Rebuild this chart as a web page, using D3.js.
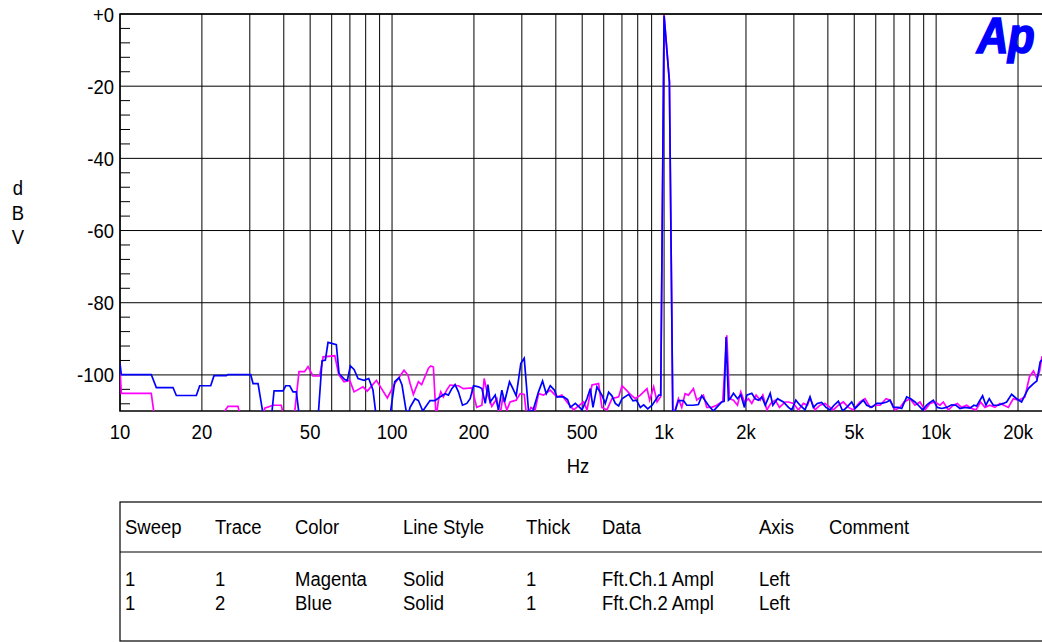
<!DOCTYPE html>
<html>
<head>
<meta charset="utf-8">
<script src="https://cdn.jsdelivr.net/npm/d3@7"></script>
<style>
body { margin: 0; background: #fff; }
text { font-family: "Liberation Sans", Arial, sans-serif; font-size: 21px; fill: #000; }
</style>
</head>
<body>
<svg id="chart" width="1042" height="642"></svg>
<script>
// tick labels
var xTicks = [10, 20, 50, 100, 200, 500, 1000, 2000, 5000, 10000, 20000];
var xTickLabels = ["10", "20", "50", "100", "200", "500", "1k", "2k", "5k", "10k", "20k"];
var yTicks = [0, -20, -40, -60, -80, -100];
var yTickLabels = ["+0", "-20", "-40", "-60", "-80", "-100"];

// trace 1 (magenta), Hz / dBV
var magFreq = [10, 10.11, 13.03, 13.41, 21.98, 24.26, 24.95, 27.15, 27.77, 33.56, 34.03, 36.51, 39.17, 40.07, 43.62,
  45.5, 47.7, 49.1, 51.2, 54.2, 55.8, 61.6, 63.7, 66.6, 69.9, 72.5, 78.2, 81.1, 87.6, 96.1, 102.3, 110.7, 114.5,
  116.5, 119.8, 125.0, 128.5, 136.0, 138.7, 141.9, 145.2, 148.0, 151.0, 154.4, 158.8, 163.4, 175.4, 183.0, 196.5,
  204.8, 213.9, 218.1, 224.2, 232.6, 242.8, 248.4, 255.5, 264.3, 271.7, 286.0, 295.8, 306.1, 313.0, 323.8, 335.8,
  345.5, 360.5, 381.6, 403.8, 420.8, 439.4, 465.1, 485.2, 505.9, 520.6, 543.2, 574.5, 590.8, 616.5, 643.2, 680.7,
  700.3, 726.5, 751.4, 784.1, 818.0, 865.3, 885.1, 915.6, 942.2, 972, 1000, 1046, 1077, 1129, 1161, 1194.5, 1228.8,
  1281.8, 1318.6, 1395, 1435, 1496, 1561, 1643, 1700, 1739, 1799, 1861, 1914, 1975, 2043, 2101, 2180, 2256, 2307,
  2387, 2469, 2561, 2656, 2785, 2865, 2989, 3117, 3251, 3363, 3439, 3587, 3742, 3904, 4074, 4190, 4371, 4560, 4758,
  4964, 5253, 5480, 5717, 5964, 6222, 6546, 6771, 7064, 7369, 7623, 8016, 8362, 8723, 9100, 9493, 9903, 10332,
  10627, 11086, 11565, 11963, 12409, 12945, 13505, 14010, 14571, 15114, 15769, 16451, 17161, 17753, 18417, 19212,
  20042, 20616, 21207, 22038, 22800, 23454, 23990, 24500];
var magDb = [-98.2, -105.1, -105.1, -112, -112, -110, -108.7, -108.7, -112, -112, -109.2, -108.4, -108.4, -112, -112,
  -99.1, -99.1, -97.7, -100.3, -100.3, -95.0, -94.7, -99.9, -101.9, -101.5, -104.7, -103.3, -104.5, -101.5, -106.4,
  -102.4, -98.7, -100.1,
  -102.4, -105.4, -101.9, -102.7, -98.2, -97.5, -97.8, -112, -107.1, -104.7, -106.1, -104.2, -102.8, -103.0, -103.8,
  -103.6, -109.0, -108.4, -101.0, -105.2, -108.7, -106.6, -112, -106.1, -109.7, -107.5, -107.0, -105.2, -105.4,
  -112, -109.0, -109.7, -105.2, -105.6, -104.2, -106.1, -105.6, -107.5, -109.7, -108.6, -107.5, -109.7, -102.8,
  -102.4, -109.0, -109.7, -106.6, -106.1, -103.0, -104.2, -105.4, -106.6, -105.6, -103.8, -107.0, -103.3, -107.5,
  -106, -0.3, -18.5, -112, -106.6, -109.0, -105.2, -105.6, -103.8, -107.0, -105.6, -109.0, -109.0, -108.4, -107.3,
  -89.0, -106.6, -107.0, -108.4, -104.7, -107.5, -106.6, -107.9, -105.6, -107.0, -105.6, -109.7, -107.9, -107.0,
  -109.0, -107.5, -107.5, -107.9, -109.7, -107.9, -108.4, -106.4, -109.7, -108.4, -107.9, -109.0, -109.7, -108.4,
  -107.5, -109.0, -109.7, -107.5, -106.6, -109.0, -108.4, -108.4, -106.6, -107.0, -109.7, -109.0, -107.5, -106.6,
  -108.4, -107.5, -109.7, -107.9, -107.5, -108.4, -107.5, -109.7, -108.4, -107.9, -109.0, -108.4, -109.3, -109.7,
  -107.5, -109.0, -108.4, -109.0, -107.9, -108.4, -109.0, -106.6, -107.0, -106.6, -106.1, -100.5, -98.9, -101.0,
  -99.1, -94.8];

// trace 2 (blue)
var blueFreq = [10, 10.11, 13.03, 13.6, 15.66, 16.11, 19.08, 19.63, 21.55, 22.16, 24.59, 24.95, 30.23, 30.83, 32.17,
  33.76, 36.0, 36.84, 39.74, 40.66, 42.06, 43.25, 44.48, 45.7, 53.45, 55.3, 56.87, 58.18, 62.4, 63.85, 67.0, 68.5,
  70.27, 72.5, 75.0, 78.9, 82.1, 85.1, 87.6, 98.0, 102.3, 106.1, 108.8, 113.8, 116.5, 121.5, 125.0, 129.7, 137.9,
  143.9, 150.1, 156.6, 161.1, 165.8, 170.5, 175.4, 181.5, 188.3, 193.7, 199.3, 207.9, 213.9, 220.1, 225.1, 229.6,
  239.4, 246.2, 253.3, 259.1, 270.3, 277.3, 286.0, 297.5, 306.1, 317.5, 329.3, 345.5, 357.5, 368.8, 381.6, 394.9,
  403.8, 427.1, 441.9, 452.0, 471.6, 489.3, 499.1, 520.6, 535.6, 547.8, 566.5, 590.8, 607.8, 625.3, 643.2, 661.7,
  680.7, 700.3, 741.0, 768.7, 790.8, 818.0, 841.5, 870.7, 903.4, 937.4, 956.0, 972, 1000, 1046, 1077, 1129, 1178,
  1211.6, 1281.8, 1337, 1375.6, 1455, 1518, 1561, 1629, 1662, 1690, 1724, 1749, 1799, 1861, 1914, 1975, 2014, 2101,
  2162, 2224, 2288, 2354, 2455, 2511, 2612, 2746, 2865, 2947, 3049, 3160, 3297, 3439, 3537, 3659, 3795, 3937, 4074,
  4214, 4371, 4535, 4691, 4894, 5035, 5179, 5403, 5558, 5798, 6049, 6310, 6583, 6771, 6965, 7266, 7474, 7793, 8061,
  8362, 8601, 8922, 9229, 9493, 9765, 10102, 10478, 10931, 11404, 11829, 12236, 12765, 13316, 13774, 14089, 14819,
  15243, 15680, 16221, 16922, 17653, 18160, 18944, 19762, 20616, 21207, 21815, 22800, 23454, 24125, 24500];
var blueDb = [-96.8, -99.9, -99.9, -103.5, -103.5, -105.7, -105.7, -103.0, -103.0, -100.2, -100.2, -99.9, -99.9,
  -102.4, -102.4, -112, -112, -104.4, -104.4, -103.0, -103.0, -104.7, -104.7, -112, -112, -96.1, -95.9, -91.0, -91.6,
  -99.6, -101.3, -101.5, -97.5, -98.5, -101.0, -101.5, -101.0, -104.2, -112, -112, -101.9, -100.8, -102.8, -112,
  -109.0, -106.6, -107.1, -110, -107.1, -107.1, -106.1, -105.2, -105.6, -103.8, -102.7, -104.7, -108.4, -107.9,
  -106.6, -103.0, -103.3, -103.8, -107.9, -102.7, -107.5, -105.6, -109.7, -104.2, -107.5, -101.9, -103.6, -105.8,
  -96.8, -95.4, -110, -110, -104.7, -101.7, -105.2, -103.0, -104.2, -106.1, -106.1, -106.8, -109.0, -107.9, -109.0,
  -109.7, -106.6, -103.8, -109.0, -103.3, -105.6, -107.9, -104.8, -105.8, -107.9, -108.6, -106.6, -105.4, -107.2,
  -107.0, -109.0, -108.3, -109.4, -108.4, -106.6, -105.6, -105.6, -0.5, -18.8, -112, -107.1, -107.1, -108.4, -108.4,
  -108.2, -105.8, -108.4, -110, -109.0, -107.5, -107.3, -89.5, -107.0, -106.6, -105.1, -106.6, -105.5, -109.0, -105.6,
  -105.1, -106.6, -107.0, -106.1, -108.4, -105.1, -108.4, -106.6, -107.5, -109.0, -109.7, -107.0, -108.4, -109.7,
  -106.1, -109.0, -107.9, -107.6, -109.0, -109.7, -108.4, -107.3, -110, -109.0, -107.5, -109.3, -108.4, -107.0,
  -108.4, -109.0, -107.9, -107.9, -107.5, -107.0, -109.0, -109.0, -109.3, -106.1, -106.6, -107.5, -108.4, -109.7,
  -108.4, -107.6, -107.0, -109.0, -109.3, -109.0, -108.3, -108.4, -109.3, -109.0, -109.2, -108.4, -108.6, -105.8,
  -108.4, -106.6, -108.4, -108.4, -107.9, -107.5, -105.4, -106.6, -107.5, -105.6, -103.8, -102.4, -101.7, -96.4,
  -95.8];

// legend table
var tableHeader = ["Sweep", "Trace", "Color", "Line Style", "Thick", "Data", "Axis", "Comment"];
var tableRows = [
  ["1", "1", "Magenta", "Solid", "1", "Fft.Ch.1 Ampl", "Left", ""],
  ["1", "2", "Blue", "Solid", "1", "Fft.Ch.2 Ampl", "Left", ""]
];
var tableCols = [125, 215, 295, 403, 526, 602, 759, 829];

var svg = d3.select("#chart");
var plotLeft = 120, plotRight = 1042, plotTop = 14, plotBottom = 411;

var x = d3.scaleLog().domain([10, 24500]).range([plotLeft, plotRight]);
var y = d3.scaleLinear().domain([-110, 0]).range([plotBottom, plotTop]);

// text with the narrow look of the original
function label(g, px, py, s, anchor) {
  return g.append("text")
    .attr("transform", "translate(" + px + "," + py + ") scale(0.88,1)")
    .attr("text-anchor", anchor || "start")
    .text(s);
}

// grid
var grid = svg.append("g").attr("stroke", "#000").attr("stroke-width", 1);
grid.selectAll(".vg").data(x.ticks()).enter().append("line")
  .attr("x1", function (d) { return x(d); }).attr("x2", function (d) { return x(d); })
  .attr("y1", plotTop).attr("y2", plotBottom);
grid.selectAll(".hg").data(yTicks).enter().append("line")
  .attr("x1", plotLeft).attr("x2", plotRight)
  .attr("y1", function (d) { return y(d); }).attr("y2", function (d) { return y(d); });

// minor y ticks every 4 dB
grid.selectAll(".mt").data(d3.range(-108, 0, 4).filter(function (d) { return d % 20 != 0; })).enter().append("line")
  .attr("x1", plotLeft).attr("x2", plotLeft + 10)
  .attr("y1", function (d) { return y(d); }).attr("y2", function (d) { return y(d); });

// frame
svg.append("path")
  .attr("d", "M" + plotRight + "," + plotTop + "H" + plotLeft + "V" + plotBottom + "H" + plotRight)
  .attr("fill", "none").attr("stroke", "#000").attr("stroke-width", 1.5);

// axis labels
var labels = svg.append("g");
yTicks.forEach(function (d, i) { label(labels, 114, y(d) + 7.5, yTickLabels[i], "end"); });
xTicks.forEach(function (d, i) { label(labels, x(d), 438.5, xTickLabels[i], "middle"); });
label(labels, 578, 473, "Hz", "middle");
["d", "B", "V"].forEach(function (c, i) { label(labels, 18, 195 + i * 24.5, c, "middle"); });

// traces
svg.append("clipPath").attr("id", "plotClip").append("rect")
  .attr("x", plotLeft).attr("y", plotTop - 2).attr("width", plotRight - plotLeft).attr("height", plotBottom - plotTop + 2);

var line = d3.line()
  .x(function (d) { return x(d[0]); })
  .y(function (d) { return y(d[1]); });

var traces = svg.append("g").attr("clip-path", "url(#plotClip)").attr("fill", "none").attr("stroke-width", 1.7);
traces.append("path").attr("stroke", "#ff00ff")
  .attr("d", line(d3.zip(magFreq, magDb)));
traces.append("path").attr("stroke", "#0000ff")
  .attr("d", line(d3.zip(blueFreq, blueDb)));

// Ap logo
svg.append("text")
  .attr("transform", "translate(977,53) scale(0.95,1.08)")
  .style("font-size", "46px").style("font-weight", "bold").style("font-style", "italic")
  .style("fill", "#0000ff").style("stroke", "#0000ff").style("stroke-width", 1.6)
  .style("letter-spacing", "-0.5px")
  .text("Ap");

// table
var table = svg.append("g");
table.append("rect").attr("x", 120).attr("y", 502).attr("width", 940).attr("height", 139)
  .attr("fill", "none").attr("stroke", "#000").attr("stroke-width", 1.2);
table.append("line").attr("x1", 120).attr("x2", 1042).attr("y1", 552).attr("y2", 552)
  .attr("stroke", "#000").attr("stroke-width", 1.2);
tableHeader.forEach(function (h, i) { label(table, tableCols[i], 534, h); });
tableRows.forEach(function (row, r) {
  row.forEach(function (c, i) { if (c) label(table, tableCols[i], 585.5 + r * 24, c); });
});
</script>
</body>
</html>
